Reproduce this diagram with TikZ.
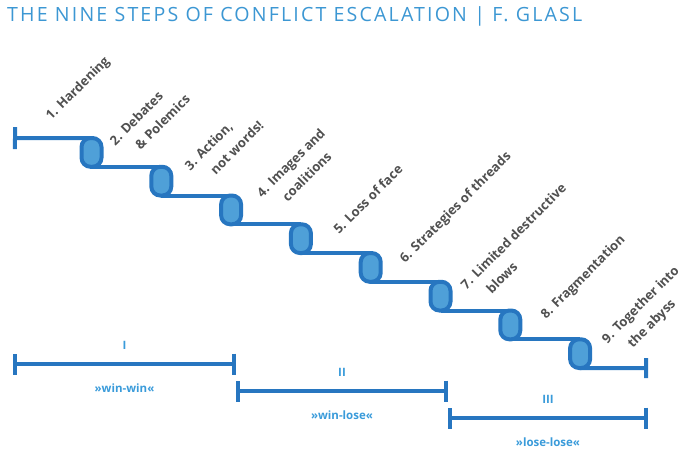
\documentclass[tikz,border=0pt]{standalone}
\usepackage{fontspec}
\setmainfont{Open Sans}
\newfontfamily\titlefont[LetterSpace=11]{Open Sans}
\usetikzlibrary{arrows.meta, positioning, backgrounds}
\definecolor{stair}{HTML}{2776C0}
\definecolor{stairfill}{HTML}{4FA0D8}
\definecolor{titleblue}{HTML}{3C97D3}
\definecolor{phaseblue}{HTML}{3A9BDA}
\definecolor{labelgray}{HTML}{505050}

\begin{document}
\begin{tikzpicture}[x=1pt, y=-1pt,
    blob/.style={draw=stair, line width=4pt, fill=stairfill, rounded corners=9pt,
      minimum width=20pt, minimum height=28.75pt, inner sep=0pt, outer sep=0pt},
    stairline/.style={stair, line width=4pt},
    steplbl/.style={rotate=45, anchor=base west, inner sep=0pt, align=left,
      text=labelgray, font=\fontsize{13}{21}\selectfont\bfseries},
    phase/.style={stair, line width=4pt, {Bar[width=21pt]}-{Bar[width=21pt]}},
    phaselbl/.style={text=phaseblue, inner sep=0pt,
      font=\fontsize{11.5}{14}\selectfont\bfseries}]
  \useasboundingbox (0,0) rectangle (685,448);
  % Title
  \node[anchor=base west, inner sep=0pt, text=titleblue,
        font=\titlefont\fontsize{19.6}{24}\selectfont] (title) at (7,21)
        {THE NINE STEPS OF CONFLICT ESCALATION | F. GLASL};
  % Staircase
  \coordinate (st) at (13,138);
  \coordinate (en) at (648,368);
  \foreach \i in {1,...,8}
    \node[blob] (b\i) at ({91.5+69.8*(\i-1)},{152.4+28.75*(\i-1)}) {};
  \begin{scope}[on background layer]
    \draw[stairline, {Bar[width=22pt]}-] (st) -- (b1.north);
    \foreach \i [evaluate=\i as \j using int(\i+1)] in {1,...,7}
      \draw[stairline] (b\i.south) -- (b\j.north);
    \draw[stairline, -{Bar[width=20pt]}] (b8.south) -- (en);
  \end{scope}
  % Step labels (two-line labels sit on their last baseline)
  \node[steplbl] (s1) at (51,121) {1. Hardening};
  \node[steplbl] (s2) at (130,161) {2. Debates\\\hspace*{15pt}\& Polemics};
  \node[steplbl] (s3) at (205,186) {3. Action,\\\hspace*{15pt}not words!};
  \node[steplbl] (s4) at (277,213) {4. Images and\\\hspace*{15pt}coalitions};
  \node[steplbl] (s5) at (339,235) {5. Loss of face};
  \node[steplbl] (s6) at (405,264) {6. Strategies of threads};
  \node[steplbl] (s7) at (481,305) {7. Limited destructive\\\hspace*{15pt}blows};
  \node[steplbl] (s8) at (546,320) {8. Fragmentation};
  \node[steplbl] (s9) at (622,359) {9. Together into\\\hspace*{15pt}the abyss};
  % Phases
  \coordinate (pa) at (13,364);
  \coordinate (pb) at (236,364);
  \coordinate (pc) at (236,391);
  \coordinate (pd) at (448,391);
  \coordinate (pe) at (448,418);
  \coordinate (pf) at (648,418);
  \draw[phase] (pa) -- node[phaselbl, above=13pt] (n1) {I}
    node[phaselbl, below=18pt] (w1) {»win-win«} (pb);
  \draw[phase] (pc) -- node[phaselbl, above=13pt] (n2) {II}
    node[phaselbl, below=18pt] (w2) {»win-lose«} (pd);
  \draw[phase] (pe) -- node[phaselbl, above=13pt] (n3) {III}
    node[phaselbl, below=18pt] (w3) {»lose-lose«} (pf);
\end{tikzpicture}
\end{document}
